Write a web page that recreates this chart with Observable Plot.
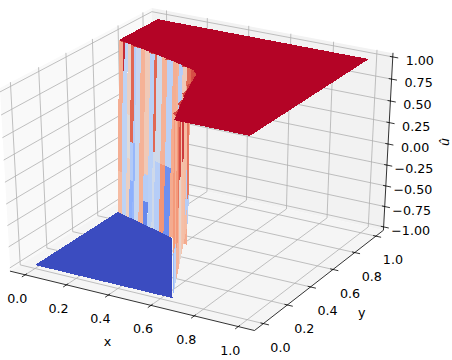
<!DOCTYPE html>
<html>
<head>
<meta charset="utf-8">
<style>html,body{margin:0;padding:0;background:#fff}svg{display:block}</style>
<script src="https://cdn.jsdelivr.net/npm/d3@7"></script>
<script src="https://cdn.jsdelivr.net/npm/@observablehq/plot@0.6"></script>
</head>
<body>
<script>
// axis limits and ticks
const xLim = [-0.05, 1.05];
const yLim = [-0.05, 1.05];
const zLim = [-1, 1];
const xTicks = [0, 0.2, 0.4, 0.6, 0.8, 1];
const yTicks = [0, 0.2, 0.4, 0.6, 0.8, 1];
const zTicks = [-1, -0.75, -0.5, -0.25, 0, 0.25, 0.5, 0.75, 1];
// edge of the upper sheet (u = 1)
const shockX = [0, 0.1, 0.2, 0.3, 0.4, 0.45, 0.487, 0.53, 0.59, 0.663, 0.67];
const shockY = [0.688, 0.655, 0.62, 0.585, 0.545, 0.525, 0.485, 0.354, 0.196, 0.018, 0];
// edge of the lower sheet (u = -1)
const lowerX = [0, 0.47];
const lowerY = [0.647, 0.478];
// outline of the lower sheet
const floorX = [0, 0.657, 0.3435, 0];
const floorY = [0, 0, 0.523, 0.647];
// foot of the side wall as seen in the picture
const sideFootX = [0.657, 0.307];
const sideFootY = [0, 0.7266];
// strips of the wall: x edges, and for every strip [z at band end, u value] from top to bottom
const wallEdges = [0, .025, .035, .054, .074, .094, .105, .133, .161, .19, .216, .23, .263, .292, .327, .351, .362, .386, .411, .437, .45, .487];
const wallBands = [
  [[-.5, .38], [-1, .3]],
  [[.67, .9], [-1, -.26]],
  [[-1, -.26]],
  [[.2, .14], [-.3, .02], [-1, .14]],
  [[-.1, .72], [-.55, -.32], [-1, -.5]],
  [[-.1, -.3], [-1, -.45]],
  [[-1, -.2]],
  [[-1, .36]],
  [[-.4, .2], [-.72, -.3], [-1, -.72]],
  [[-1, -.28]],
  [[-.1, .72], [-1, -.12]],
  [[-.2, -.12], [-1, -.3]],
  [[-.2, .36], [-1, .52]],
  [[-.2, -.28], [-1, -.68]],
  [[.3, .38], [-1, .4]],
  [[.3, .36], [-1, .6]],
  [[.5, -.3], [-1, .2]],
  [[.7, .2], [-1, .3]],
  [[.8, .7], [-1, .4]],
  [[.6, .8]],
  [[.6, .8]]
];
const sideEdges = [.53, .544, .558, .572, .586, .6, .614, .628, .642, .656, .67];
const sideBands = [
  [[-.6, .65], [-1, -.3]],
  [[-.1, .3], [-.7, -.3], [-1, .3]],
  [[-1, .3]],
  [[.2, .85], [-1, .28]],
  [[-1, .25]],
  [[.1, .8], [-1, .1]],
  [[-.2, .65], [-1, .35]],
  [[-.6, .5], [-1, .35]],
  [[-.5, .36], [-1, -.26]],
  [[-.5, .5], [-1, -.45]]
];
// teeth on the top surface near the discontinuity: x, y of each tooth
const toothX = [.03, .11, .2, .3, .4, .47, .5, .53, .56, .6, .64];
const toothY = [.68, .65, .615, .578, .54, .51, .45, .36, .275, .17, .07];

const topY = d3.scaleLinear().domain(shockX).range(shockY);
const lowY = d3.scaleLinear().domain(lowerX).range(lowerY);
const paneMin = -1 / 48, paneMax = 49 / 48;

function projectWorld(wx, wy, wz) {
  const dx = wx - .5, dy = wy - .5, dz = wz - .5;
  const c30 = Math.cos(Math.PI / 6), s30 = .5;
  const u = [c30, s30, 0];
  const v = [-s30 * s30, s30 * c30, c30];
  const n = [c30 * s30, -c30, s30];
  const w = 10 - (dx * n[0] + dy * n[1] + dz * n[2]);
  return [(dx * u[0] + dy * u[1]) / w, (dx * v[0] + dy * v[1] + dz * v[2]) / w];
}
const wX = x => (x - xLim[0]) / (xLim[1] - xLim[0]);
const wY = y => (y - yLim[0]) / (yLim[1] - yLim[0]);
const wZ = z => (z - zLim[0]) / (zLim[1] - zLim[0]);
const project = (x, y, z) => projectWorld(wX(x), wY(y), wZ(z));

const panes = [], surface = [], gridLines = [], axes = [], ticks = [];
function addPoly(list, id, value, pts) {
  for (const p of pts) list.push({id, value, px: p[0], py: p[1]});
}
// panes
const W = projectWorld;
addPoly(panes, "x", "#f9f9f9", [W(paneMin, paneMin, paneMin), W(paneMin, paneMax, paneMin), W(paneMin, paneMax, paneMax), W(paneMin, paneMin, paneMax)]);
addPoly(panes, "y", "#f2f2f2", [W(paneMin, paneMax, paneMin), W(paneMax, paneMax, paneMin), W(paneMax, paneMax, paneMax), W(paneMin, paneMax, paneMax)]);
addPoly(panes, "z", "#f5f5f5", [W(paneMin, paneMin, paneMin), W(paneMax, paneMin, paneMin), W(paneMax, paneMax, paneMin), W(paneMin, paneMax, paneMin)]);
// grid
for (const t of xTicks) addPoly(gridLines, "gx" + t, 0, [W(wX(t), paneMin, paneMin), W(wX(t), paneMax, paneMin), W(wX(t), paneMax, paneMax)]);
for (const t of yTicks) addPoly(gridLines, "gy" + t, 0, [W(paneMax, wY(t), paneMin), W(paneMin, wY(t), paneMin), W(paneMin, wY(t), paneMax)]);
for (const t of zTicks) addPoly(gridLines, "gz" + t, 0, [W(paneMax, paneMax, wZ(t)), W(paneMin, paneMax, wZ(t)), W(paneMin, paneMin, wZ(t))]);
// axis lines
addPoly(axes, "a", 0, [W(paneMin, paneMin, paneMin), W(paneMax, paneMin, paneMin), W(paneMax, paneMax, paneMin), W(paneMax, paneMax, paneMax)]);
// ticks
const inward = .012, outward = .0225;
const xLabels = [], yLabels = [], zLabels = [];
for (const t of xTicks) {
  const a = W(wX(t), paneMin + inward, paneMin), b = W(wX(t), paneMin - outward, paneMin);
  ticks.push({x1: a[0], y1: a[1], x2: b[0], y2: b[1]});
  const c = W(wX(t), paneMin, paneMin);
  xLabels.push({px: c[0], py: c[1], text: t.toFixed(1)});
}
for (const t of yTicks) {
  const a = W(paneMax - inward, wY(t), paneMin), b = W(paneMax + outward, wY(t), paneMin);
  ticks.push({x1: a[0], y1: a[1], x2: b[0], y2: b[1]});
  const c = W(paneMax, wY(t), paneMin);
  yLabels.push({px: c[0], py: c[1], text: t.toFixed(1)});
}
for (const t of zTicks) {
  const a = W(paneMax - inward, paneMax, wZ(t)), b = W(paneMax + outward, paneMax, wZ(t));
  ticks.push({x1: a[0], y1: a[1], x2: b[0], y2: b[1]});
  const c = W(paneMax, paneMax, wZ(t));
  zLabels.push({px: c[0], py: c[1], text: t.toFixed(2).replace("-", "\u2212")});
}
const xMid = W(.5, paneMin, paneMin), yMid = W(paneMax, .5, paneMin), zMid = W(paneMax, paneMax, .5);

// surface: lower sheet
const P = project;
addPoly(surface, "floor", -1, floorX.map((x, i) => P(x, floorY[i], -1)));
// walls
function wallPoint(a, b, z) {
  const t = (1 - z) / 2;
  return P(a[0] + (b[0] - a[0]) * t, a[1] + (b[1] - a[1]) * t, z);
}
function addStrips(prefix, edges, bands, topAt, footAt) {
  bands.forEach((list, i) => {
    const a0 = topAt(edges[i]), a1 = topAt(edges[i + 1]);
    const b0 = footAt(edges[i]), b1 = footAt(edges[i + 1]);
    let top = 1;
    list.forEach(([end, val], j) => {
      addPoly(surface, prefix + i + "_" + j, val, [wallPoint(a0, b0, top), wallPoint(a1, b1, top), wallPoint(a1, b1, end), wallPoint(a0, b0, end)]);
      top = end;
    });
  });
}
const topAt = x => [x, topY(x)];
addStrips("w", wallEdges, wallBands, topAt, x => [x, lowY(x)]);
addStrips("s", sideEdges, sideBands, topAt, x => {
  const t = (.67 - x) / (.67 - .53);
  return [sideFootX[0] + (sideFootX[1] - sideFootX[0]) * t, sideFootY[0] + (sideFootY[1] - sideFootY[0]) * t];
});
// upper sheet
addPoly(surface, "top", 1, [...shockX.map((x, i) => P(x, shockY[i], 1)), P(1, 0, 1), P(1, 1, 1), P(0, 1, 1)]);
// teeth
toothX.forEach((x, i) => {
  addPoly(surface, "t" + i, .82, [P(x - .015, topY(x - .015), 1), P(x + .015, topY(x + .015), 1), P(x - .01, toothY[i] - .008, 1)]);
});

const coolwarm = ["#3b4cc0", "#6282ea", "#8db0fe", "#c0d4f5", "#dddddd", "#f5c4ad", "#f49a7b", "#de604d", "#b40426"];
const textStyle = {x: "px", y: "py", fontSize: 12.7, fill: "#000", fontFamily: "DejaVu Sans"};

const plot = Plot.plot({
  width: 452,
  height: 360,
  margin: 0,
  style: {background: "#fff", fontFamily: "DejaVu Sans"},
  x: {domain: [-0.07456, 0.09353], range: [0, 452], axis: null},
  y: {domain: [-0.09921, 0.08125], range: [360, 0], axis: null},
  color: {type: "linear", domain: d3.range(9).map(i => -1 + i / 4), range: coolwarm},
  marks: [
    Plot.line(panes, {x: "px", y: "py", z: "id", fill: d => d.value, stroke: "none", curve: "linear"}),
    Plot.line(gridLines, {x: "px", y: "py", z: "id", stroke: "#b0b0b0", strokeWidth: 0.8, curve: "linear"}),
    Plot.line(surface, {x: "px", y: "py", z: "id", fill: "value", stroke: "none", curve: "linear", shapeRendering: "crispEdges"}),
    Plot.line(axes, {x: "px", y: "py", z: "id", stroke: "#000", strokeWidth: 0.8, curve: "linear"}),
    Plot.link(ticks, {x1: "x1", y1: "y1", x2: "x2", y2: "y2", stroke: "#000", strokeWidth: 0.8}),
    Plot.text(xLabels, {...textStyle, text: "text", dx: -8, dy: 24}),
    Plot.text(yLabels, {...textStyle, text: "text", dx: 17, dy: 24}),
    Plot.text(zLabels, {...textStyle, text: "text", dx: 27, dy: 4}),
    Plot.text([{px: xMid[0], py: xMid[1]}], {...textStyle, text: () => "x", dx: -22, dy: 42}),
    Plot.text([{px: yMid[0], py: yMid[1]}], {...textStyle, text: () => "y", dx: 40, dy: 35}),
    Plot.text([{px: zMid[0], py: zMid[1]}], {...textStyle, text: () => "\u00fb", dx: 57, dy: -2, rotate: -90, fontStyle: "italic"})
  ]
});
document.body.appendChild(plot);
</script>
</body>
</html>
